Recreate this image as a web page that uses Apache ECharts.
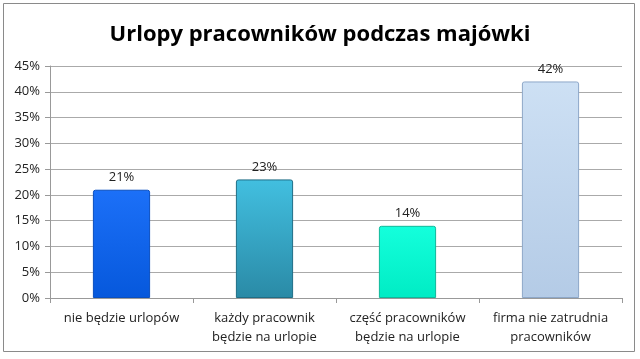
<!DOCTYPE html>
<html><head><meta charset="utf-8">
<script src="https://cdn.jsdelivr.net/npm/echarts@6/dist/echarts.min.js"></script>
<style>html,body{margin:0;padding:0;background:#fff}#c{width:640px;height:359px}</style>
</head><body><div id="c"></div>
<script>
const title = 'Urlopy pracowników podczas majówki';
const categories = ['nie będzie urlopów', 'każdy pracownik\nbędzie na urlopie', 'część pracowników\nbędzie na urlopie', 'firma nie zatrudnia\npracowników'];
const values = [21, 23, 14, 42];
const yTicks = {min: 0, max: 45, interval: 5};

const fills = [
  ['#1c70f8', '#0658dc'],
  ['#42bfe0', '#2a8aa6'],
  ['#14ffdc', '#00ecc4'],
  ['#cde0f4', '#b4cbe6']
];
const borders = ['#0a4fc0', '#1f6e86', '#10b89a', '#8da7c8'];

const chart = echarts.init(document.getElementById('c'));
chart.setOption({
  animation: false,
  title: {text: title, left: 'center', top: 19,
    textStyle: {fontFamily: 'Open Sans', fontWeight: 'bold', fontSize: 22, color: '#000'}},
  graphic: [{type: 'rect', shape: {x: 3.5, y: 3.5, width: 631, height: 348},
    style: {fill: null, stroke: '#8a8a8a', lineWidth: 1}, silent: true}],
  grid: {left: 50, right: 18, top: 66, bottom: 61},
  xAxis: {type: 'category', data: categories,
    axisLine: {lineStyle: {color: '#999'}},
    axisTick: {show: true, alignWithLabel: false, length: 5, lineStyle: {color: '#999'}},
    axisLabel: {fontFamily: 'Open Sans', fontSize: 13, color: '#222', lineHeight: 19, margin: 11, interval: 0}},
  yAxis: {type: 'value', min: yTicks.min, max: yTicks.max, interval: yTicks.interval,
    axisLine: {show: true, lineStyle: {color: '#999'}},
    axisTick: {show: true, length: 5, lineStyle: {color: '#999'}},
    splitLine: {lineStyle: {color: '#aaa'}},
    axisLabel: {formatter: '{value}%', fontFamily: 'Open Sans', fontSize: 13, color: '#222', margin: 10}},
  series: [{type: 'bar', barWidth: '40%',
    data: values.map((v, i) => ({value: v, itemStyle: {
      color: new echarts.graphic.LinearGradient(0, 0, 0, 1, [{offset: 0, color: fills[i][0]}, {offset: 1, color: fills[i][1]}]),
      borderColor: borders[i], borderWidth: 1, borderRadius: [2, 2, 0, 0]}})),
    label: {show: true, position: 'top', distance: 6, formatter: '{c}%',
      fontFamily: 'Open Sans', fontSize: 13, color: '#222'}}]
});
</script></body></html>
